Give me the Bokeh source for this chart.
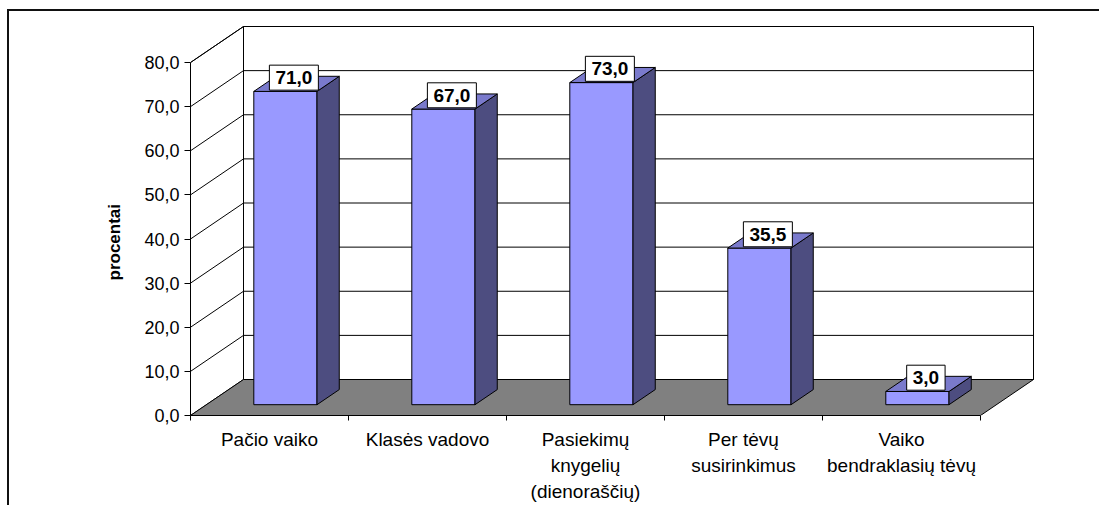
from bokeh.plotting import figure
from bokeh.models import FixedTicker, ColumnDataSource, Range1d, Title
from bokeh.core.properties import value
from bokeh.embed import file_html
from bokeh.resources import INLINE

# ---- data ----
categories = ["Pačio vaiko", "Klasės vadovo", "Pasiekimų\nknygelių\n(dienoraščių)",
              "Per tėvų\nsusirinkimus", "Vaiko\nbendraklasių tėvų"]
values = [71.0, 67.0, 73.0, 35.5, 3.0]
value_labels = ["71,0", "67,0", "73,0", "35,5", "3,0"]
y_ticks = [0, 10, 20, 30, 40, 50, 60, 70, 80]
y_tick_labels = ["0,0", "10,0", "20,0", "30,0", "40,0", "50,0", "60,0", "70,0", "80,0"]
y_title = "procentai"

# ---- layout / style ----
FONT = "Liberation Sans"
FRAME_W, FRAME_H = 855, 395
PX_X = 158.0                 # px per category
PX_Y = 353.0 / 80.0          # px per unit
DEPTH_PX_X, DEPTH_PX_Y = 53.0, 36.0
DX = DEPTH_PX_X / PX_X
DY = DEPTH_PX_Y / PX_Y
N = len(categories)
YMAX = y_ticks[-1]

p = figure(frame_width=FRAME_W, frame_height=FRAME_H,
           x_range=Range1d(0, FRAME_W / PX_X), y_range=Range1d(0, FRAME_H / PX_Y),
           output_backend="svg", toolbar_location=None,
           min_border_left=181, min_border_right=54, min_border_top=9, min_border_bottom=85)
p.styles = {"margin-left": "7px", "margin-top": "9px",
            "border-left": "2px solid #111", "border-top": "2px solid #111"}
p.outline_line_color = None
p.xgrid.visible = False
p.ygrid.visible = False
p.background_fill_color = "white"
p.border_fill_color = "white"

# walls
p.patch([0, DX, DX, 0], [0, DY, YMAX + DY, YMAX], fill_color="white", line_color="black", line_width=1)
p.patch([DX, N + DX, N + DX, DX], [DY, DY, YMAX + DY, YMAX + DY], fill_color="white",
        line_color="black", line_width=1)
gx, gy = [], []
for t in y_ticks[1:]:
    gx.append([DX, N + DX]); gy.append([t + DY, t + DY])
    gx.append([0, DX]); gy.append([t, t + DY])
p.multi_line(gx, gy, line_color="black", line_width=1)
# floor
p.patch([0, N, N + DX, DX], [0, 0, DY, DY], fill_color="#808080", line_color="black", line_width=1)

# bars
HW, F0, F1 = 0.2, 0.3, 0.72
fx, fy, sx, sy, tx, ty = [], [], [], [], [], []
for i, v in enumerate(values):
    cx = i + 0.5
    l0, r0 = cx - HW + F0 * DX, cx + HW + F0 * DX
    l1, r1 = cx - HW + F1 * DX, cx + HW + F1 * DX
    b0, b1 = F0 * DY, F1 * DY
    fx.append([l0, r0, r0, l0]); fy.append([b0, b0, v + b0, v + b0])
    sx.append([r0, r1, r1, r0]); sy.append([b0, b1, v + b1, v + b0])
    tx.append([l0, r0, r1, l1]); ty.append([v + b0, v + b0, v + b1, v + b1])
p.patches(fx, fy, fill_color="#9999FF", line_color="black", line_width=1)
p.patches(sx, sy, fill_color="#4D4D80", line_color="black", line_width=1)
p.patches(tx, ty, fill_color="#7A7ACC", line_color="black", line_width=1)

# value labels
lab = ColumnDataSource(dict(x=[i + 0.5 + 0.46 * DX for i in range(N)],
                            y=[v + 0.46 * DY for v in values], t=value_labels))
p.text(x="x", y="y", text="t", source=lab, text_font=value(FONT), text_font_size="19px",
       text_font_style="bold", text_color="black", text_align="center", text_baseline="middle",
       y_offset=-8, background_fill_color="white", border_line_color="black",
       border_line_width=1, padding=6)

# y axis
ya = p.yaxis[0]
ya.ticker = FixedTicker(ticks=y_ticks, minor_ticks=[])
ya.major_label_overrides = {t: s for t, s in zip(y_ticks, y_tick_labels)}
ya.bounds = (0, YMAX)
ya.axis_line_color = "black"
ya.major_tick_out = 6
ya.major_tick_in = 0
ya.major_label_standoff = 5
ya.major_label_text_font = FONT
ya.major_label_text_font_size = "18px"
ya.major_label_text_color = "black"

# y title as a side title, shifted so it is centred on the tick span
p.add_layout(Title(text=y_title, align="left", offset=135, standoff=36,
                   text_font=FONT, text_font_size="17px", text_font_style="bold",
                   text_color="black"), "left")

# x axis
xa = p.xaxis[0]
xa.ticker = FixedTicker(ticks=[i + 0.5 for i in range(N)], minor_ticks=list(range(N + 1)))
xa.major_label_overrides = {i + 0.5: c for i, c in enumerate(categories)}
xa.bounds = (0, N)
xa.axis_line_color = "black"
xa.major_tick_out = 0
xa.major_tick_in = 0
xa.minor_tick_out = 5
xa.minor_tick_in = 0
xa.minor_tick_line_color = "black"
xa.major_label_standoff = 8
xa.major_label_text_font = FONT
xa.major_label_text_font_size = "19px"
xa.major_label_text_color = "black"
xa.major_label_text_line_height = 1.25

open("out.html", "w").write(file_html(p, INLINE))
